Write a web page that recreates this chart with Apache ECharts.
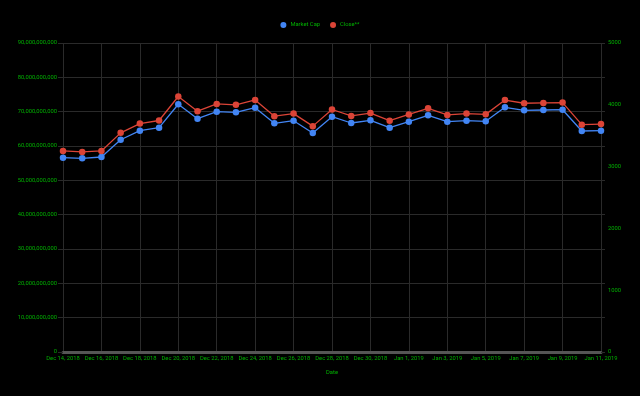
<!DOCTYPE html>
<html><head><meta charset="utf-8">
<script src="https://cdn.jsdelivr.net/npm/echarts@6/dist/echarts.min.js"></script>
<style>html,body{margin:0;padding:0;background:#000;}#c{width:640px;height:396px;}</style>
</head><body><div id="c"></div>
<script>
const dates = ["Dec 14, 2018","Dec 15, 2018","Dec 16, 2018","Dec 17, 2018","Dec 18, 2018","Dec 19, 2018","Dec 20, 2018","Dec 21, 2018","Dec 22, 2018","Dec 23, 2018","Dec 24, 2018","Dec 25, 2018","Dec 26, 2018","Dec 27, 2018","Dec 28, 2018","Dec 29, 2018","Dec 30, 2018","Dec 31, 2018","Jan 1, 2019","Jan 2, 2019","Jan 3, 2019","Jan 4, 2019","Jan 5, 2019","Jan 6, 2019","Jan 7, 2019","Jan 8, 2019","Jan 9, 2019","Jan 10, 2019","Jan 11, 2019"];
const marketCap = [56590000000,56420000000,56800000000,61830000000,64460000000,65330000000,72150000000,67950000000,69990000000,69820000000,71160000000,66610000000,67370000000,63790000000,68530000000,66700000000,67490000000,65330000000,67080000000,68940000000,67080000000,67370000000,67190000000,71270000000,70400000000,70490000000,70570000000,64370000000,64460000000];
const closePrice = [3252.84,3236.76,3252.91,3545.86,3696.06,3745.95,4134.44,3896.54,4014.18,3998.98,4078.60,3815.49,3857.30,3654.83,3923.92,3820.41,3865.95,3742.70,3843.52,3943.41,3836.74,3857.72,3845.19,4076.63,4025.25,4030.85,4035.30,3678.92,3687.37];
const green = '#00b000';
const gridColor = '#2a2a2a';
const font = 'Roboto';
const fs = 5.8;
const chart = echarts.init(document.getElementById('c'));
chart.setOption({
  backgroundColor: '#000',
  animation: false,
  legend: {
    top: 17, left: 'center', icon: 'circle', itemWidth: 6, itemHeight: 6, itemGap: 10,
    textStyle: { color: green, fontSize: fs, fontFamily: font, padding: [0, 0, 0, -1] },
    data: ['Market Cap', 'Close**']
  },
  grid: { left: 63, right: 39, top: 43, bottom: 44 },
  xAxis: {
    type: 'category', data: dates, boundaryGap: false,
    name: 'Date', nameLocation: 'middle', nameGap: 18,
    nameTextStyle: { color: green, fontSize: fs, fontFamily: font },
    axisLine: { lineStyle: { color: '#555', width: 3 } },
    axisTick: { show: false },
    axisLabel: { interval: 1, color: green, fontSize: fs, fontFamily: font, margin: 4,
      showMinLabel: true, showMaxLabel: true, hideOverlap: false },
    splitLine: { show: true, interval: 1, lineStyle: { color: gridColor, width: 1 } }
  },
  yAxis: [
    { type: 'value', min: 0, max: 90000000000, interval: 10000000000,
      axisLine: { show: false },
      axisTick: { show: true, length: 5, lineStyle: { color: gridColor } },
      axisLabel: { color: green, fontSize: fs, fontFamily: font, margin: 6,
        formatter: v => v.toLocaleString('en-US') },
      splitLine: { lineStyle: { color: gridColor, width: 1 } } },
    { type: 'value', min: 0, max: 5000, interval: 1000,
      axisLine: { show: false }, axisTick: { show: false },
      axisLabel: { color: green, fontSize: fs, fontFamily: font, margin: 7,
        formatter: v => String(v) },
      splitLine: { show: false } },
    { type: 'value', position: 'right', min: 0, max: 90000000000, interval: 10000000000,
      axisLine: { show: false },
      axisTick: { show: true, length: 4, lineStyle: { color: gridColor } },
      axisLabel: { show: false }, splitLine: { show: false } }
  ],
  series: [
    { name: 'Market Cap', type: 'line', data: marketCap, yAxisIndex: 0,
      symbol: 'circle', symbolSize: 6.5, color: '#4285f4', lineStyle: { width: 1.3 } },
    { name: 'Close**', type: 'line', data: closePrice, yAxisIndex: 1,
      symbol: 'circle', symbolSize: 6.5, color: '#db4437', lineStyle: { width: 1.3 } }
  ]
});
</script></body></html>
